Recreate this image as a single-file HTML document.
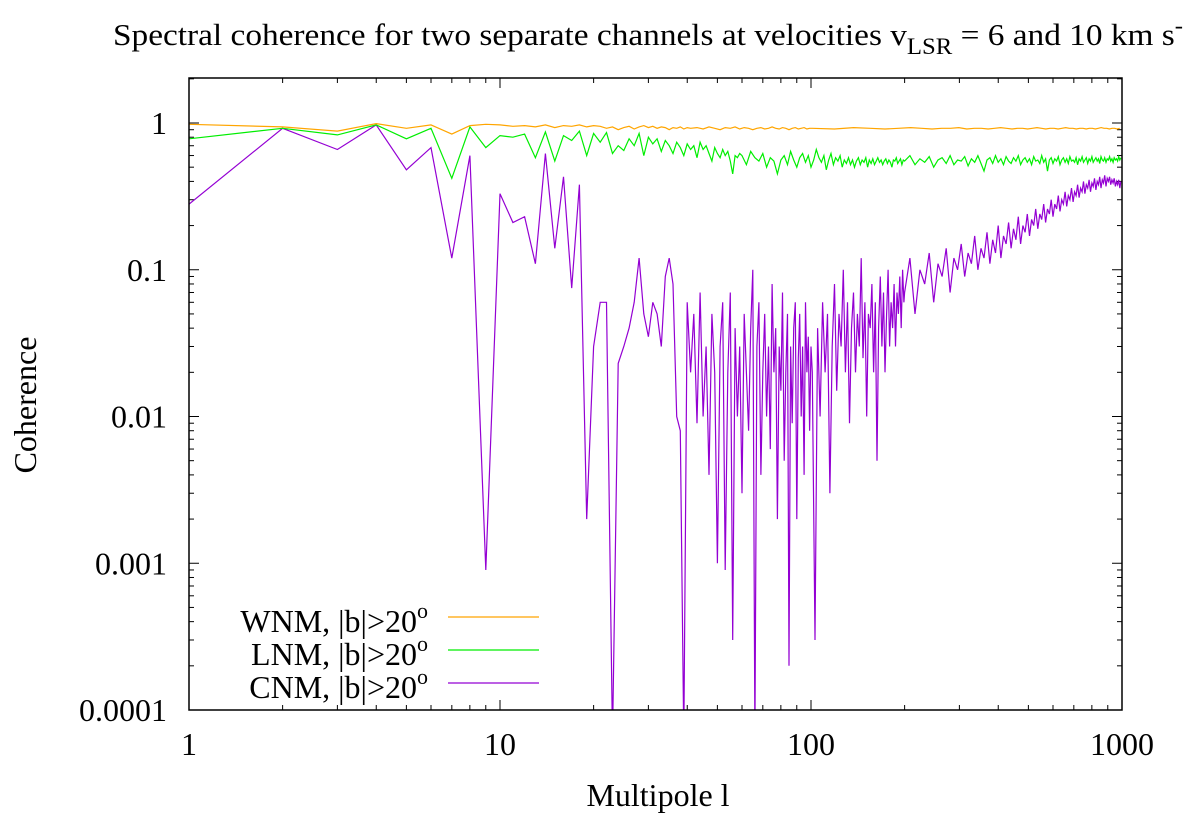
<!DOCTYPE html>
<html><head><meta charset="utf-8"><style>
html,body{margin:0;padding:0;background:#fff;}
svg{display:block;font-family:"Liberation Serif",serif;}
</style></head><body>
<svg id="chart" width="1200" height="818" viewBox="0 0 1200 818" xmlns="http://www.w3.org/2000/svg">
<text x="113" y="45" font-size="31" textLength="1070" lengthAdjust="spacingAndGlyphs">Spectral coherence for two separate channels at velocities v<tspan font-size="23" dy="9">LSR</tspan><tspan dy="-9"> = 6 and 10 km s</tspan><tspan font-size="23" dy="-12">-</tspan></text>
<text transform="translate(36,405) rotate(-90)" font-size="32" text-anchor="middle">Coherence</text>
<text x="658" y="806" font-size="32" text-anchor="middle">Multipole l</text>
<g id="ticks"></g>
<g id="series"></g>
<rect x="189" y="78" width="933" height="632" fill="none" stroke="#000" stroke-width="1.5"/>
<g id="legend"></g>
</svg>
<script>
const xTicks=[1,10,100,1000];
const xTickLabels=["1","10","100","1000"];
const yTicks=[0.0001,0.001,0.01,0.1,1];
const yTickLabels=["0.0001","0.001","0.01","0.1","1"];
const seriesNames=["WNM, |b|>20°","LNM, |b|>20°","CNM, |b|>20°"];
// segments: [startL, step, values]
const wnmA=[0.98,0.94,0.88,0.99,0.92,0.97,0.84,0.96,0.98,0.97,0.95,0.96,0.94,0.97,0.93,0.96,0.95,0.97,0.94,0.96,0.95,0.92,0.94,0.9,0.93,0.95,0.91,0.94,0.96,0.93,0.95,0.92,0.94,0.93,0.9,0.93,0.92,0.94,0.91,0.93];
const wnmB=[0.92,0.93,0.91,0.94,0.92,0.9,0.93,0.92,0.94,0.91,0.93,0.92,0.9,0.92,0.93,0.91,0.92,0.94,0.92,0.91,0.93,0.92,0.9,0.92,0.93,0.91,0.92,0.93,0.91,0.92];
const wnmC=[0.92,0.91,0.93,0.92,0.91,0.92,0.93,0.92,0.91,0.92,0.92,0.93,0.91,0.92,0.92,0.91,0.92,0.93,0.92,0.91,0.92,0.92,0.91,0.92,0.93,0.92,0.91,0.92,0.92,0.91,0.92,0.93,0.92,0.92,0.91,0.92,0.92,0.91,0.92,0.92,0.91,0.92,0.93,0.92,0.92,0.91,0.92,0.92,0.91,0.92];
const lnmA=[0.78,0.92,0.83,0.97,0.78,0.92,0.42,0.94,0.68,0.82,0.8,0.84,0.58,0.87,0.55,0.82,0.76,0.88,0.6,0.85,0.74,0.86,0.62,0.7,0.65,0.78,0.7,0.85,0.6,0.8,0.72,0.78,0.64,0.76,0.7,0.62,0.74,0.68,0.6,0.72,0.66,0.7,0.58,0.74,0.66,0.7,0.62,0.55,0.68,0.62,0.58,0.66,0.6,0.64,0.55,0.45,0.6,0.58,0.62];
const lnmB=[0.6,0.52,0.64,0.58,0.55,0.62,0.5,0.58,0.55,0.45,0.56,0.6,0.52,0.64,0.56,0.5,0.58,0.62,0.54,0.6,0.5,0.56,0.66,0.58,0.54,0.6,0.48,0.56,0.62,0.52,0.58,0.55,0.6,0.5,0.56,0.53,0.58,0.52,0.56,0.5,0.55,0.58,0.52,0.56,0.54,0.58,0.5,0.56,0.53,0.57,0.52,0.55,0.58,0.54,0.56,0.52,0.55,0.57,0.53,0.56,0.54,0.5,0.56,0.55,0.58,0.53,0.55,0.57,0.52,0.56];
const lnmC=[0.55,0.6,0.52,0.57,0.54,0.59,0.5,0.56,0.58,0.53,0.6,0.52,0.56,0.55,0.59,0.51,0.57,0.54,0.6,0.53,0.47,0.56,0.58,0.53,0.6,0.54,0.57,0.52,0.59,0.55,0.53,0.58,0.55,0.6,0.52,0.56,0.58,0.54,0.57,0.52,0.59,0.55,0.56,0.53,0.6,0.54,0.57,0.47,0.56,0.58,0.53,0.57,0.55,0.59,0.52,0.56,0.58,0.54,0.57,0.53,0.59,0.55,0.56,0.54,0.58,0.52,0.57,0.55,0.59,0.54,0.56,0.58,0.53,0.57,0.55,0.59,0.54,0.56,0.58,0.55,0.57,0.53,0.59,0.56,0.55,0.58,0.54,0.57,0.56,0.59,0.55,0.57,0.54,0.58,0.56,0.57,0.55,0.59,0.56,0.58];
const cnmA=[0.28,0.92,0.66,0.97,0.48,0.68,0.12,0.6,0.0009,0.33,0.21,0.23,0.11,0.62,0.14,0.43,0.075,0.38,0.002,0.03,0.06,0.06,0.00005,0.023,0.03,0.04,0.06,0.12,0.05,0.035,0.06,0.05,0.03,0.09,0.12,0.08,0.01,0.008,0.00005,0.06,0.02,0.05,0.009,0.07,0.01];
const cnmB=[0.03,0.004,0.05,0.02,0.001,0.03,0.06,0.0009,0.02,0.07,0.0003,0.04,0.01,0.03,0.003,0.05,0.02,0.008,0.04,0.1,0.00005,0.03,0.06,0.004,0.02,0.05,0.01,0.03,0.006,0.08,0.02,0.04,0.002,0.03,0.015,0.07,0.005,0.02,0.05,0.0002,0.03,0.009,0.04,0.06,0.002,0.025,0.05,0.01,0.03,0.004,0.06,0.02,0.035,0.008,0.03];
const cnmC=[0.02,0.0003,0.04,0.01,0.06,0.02,0.05,0.003,0.03,0.08,0.015,0.05,0.03,0.1,0.02,0.06,0.009,0.04,0.07,0.02,0.05,0.03,0.12,0.025,0.06,0.01,0.05,0.04,0.08,0.02,0.06,0.005,0.04,0.09,0.03,0.07,0.02,0.05,0.1,0.03,0.06,0.04,0.08,0.03,0.07,0.05,0.09,0.04,0.1,0.06];
const cnmD=[0.07,0.12,0.05,0.1,0.08,0.13,0.06,0.11,0.09,0.14,0.07,0.12,0.1,0.15,0.09,0.13,0.11,0.17,0.1,0.14,0.12,0.18,0.11,0.16,0.13,0.2,0.12,0.17,0.15,0.21,0.14,0.19,0.16,0.23,0.15,0.2,0.18,0.24,0.17,0.22,0.2,0.26,0.19,0.24,0.22,0.28,0.21,0.26,0.24,0.3,0.23,0.28,0.26,0.32,0.25,0.3,0.28,0.34,0.27,0.32,0.3,0.36,0.29,0.34,0.32,0.38,0.31,0.36,0.34,0.4,0.33,0.38,0.36,0.41,0.34,0.39,0.37,0.42,0.35,0.4,0.38,0.43,0.36,0.41,0.39,0.44,0.37,0.42,0.4,0.43,0.38,0.41,0.39,0.42,0.37,0.4,0.38,0.41,0.36,0.4];
const wnmSegs=[[1,1,wnmA],[41,2,wnmB],[101,18,wnmC]];
const lnmSegs=[[1,1,lnmA],[60,2,lnmB],[200,8,lnmC]];
const cnmSegs=[[1,1,cnmA],[46,1,cnmB],[101,2,cnmC],[200,8,cnmD]];
const colors=["#ffa500","#00ee00","#9400d3"];

const NS="http://www.w3.org/2000/svg";
const X0=189,X1=1122,Y0=78,Y1=710;
const xs=l=>X0+(Math.log10(l)-0)/3*(X1-X0);
const ys=v=>{const lv=Math.max(Math.log10(v),-4.2);return 123+(0-lv)*146.75;};
const ticks=document.getElementById('ticks');
function ln(x1,y1,x2,y2,w){const e=document.createElementNS(NS,'line');e.setAttribute('x1',x1);e.setAttribute('y1',y1);e.setAttribute('x2',x2);e.setAttribute('y2',y2);e.setAttribute('stroke','#000');e.setAttribute('stroke-width',w||1);return e;}
function tx(x,y,s,anchor){const e=document.createElementNS(NS,'text');e.setAttribute('x',x);e.setAttribute('y',y);e.setAttribute('font-size','32');e.setAttribute('text-anchor',anchor);e.textContent=s;return e;}
xTicks.forEach((t,i)=>{
  for(let m=1;m<10;m++){const v=t*m;if(v>1000)break;const x=xs(v);const L=m===1?10:5;
    const a=ln(x,Y1,x,Y1-L);ticks.appendChild(a);
    const b=ln(x,Y0,x,Y0+L);ticks.appendChild(b);}
  const lab=tx(xs(t),755,xTickLabels[i],'middle');
  
  
  ticks.appendChild(lab);
});
yTicks.forEach((t,i)=>{
  for(let m=1;m<10;m++){const v=t*m;if(v>2.1)break;const y=ys(v);if(y<Y0)break;const L=m===1?10:5;
    const a=ln(X0,y,X0+L,y);ticks.appendChild(a);
    const b=ln(X1,y,X1-L,y);ticks.appendChild(b);}
  const lab=tx(167,ys(t)+11,yTickLabels[i],'end');
  
  
  ticks.appendChild(lab);
});
const sg=document.getElementById('series');
const clip=document.createElementNS(NS,'clipPath');clip.setAttribute('id','pc');
const cr=document.createElementNS(NS,'rect');cr.setAttribute('x',X0);cr.setAttribute('y',Y0);cr.setAttribute('width',X1-X0);cr.setAttribute('height',Y1-Y0);clip.appendChild(cr);sg.appendChild(clip);
function draw(segs,color,name){
  const pts=[];segs.forEach(([s,st,vals])=>vals.forEach((v,k)=>{const l=s+k*st;if(l<=1000)pts.push([xs(l),ys(v)]);}));
  const p=document.createElementNS(NS,'polyline');
  p.setAttribute('points',pts.map(q=>q[0].toFixed(1)+','+q[1].toFixed(1)).join(' '));
  p.setAttribute('fill','none');p.setAttribute('stroke',color);p.setAttribute('stroke-width','1.2');p.setAttribute('clip-path','url(#pc)');
  
  
  sg.appendChild(p);
}
draw(cnmSegs,colors[2],'cnm-line');
draw(lnmSegs,colors[1],'lnm-line');
draw(wnmSegs,colors[0],'wnm-line');
const lg=document.getElementById('legend');
const legY=[617,650,683];
const legLabel=["WNM, ","LNM, ","CNM, "];
seriesNames.forEach((n,i)=>{
  const t=document.createElementNS(NS,'text');t.setAttribute('x',428);t.setAttribute('y',legY[i]+15);t.setAttribute('font-size','32');t.setAttribute('text-anchor','end');
  t.innerHTML=legLabel[i]+'|b|&gt;20<tspan font-size="22" dy="-14">o</tspan>';
  
  
  lg.appendChild(t);
  const l=ln(448,legY[i],539,legY[i],1.2);l.setAttribute('stroke',colors[i]);
  
  
  lg.appendChild(l);
});
</script>
</body></html>
